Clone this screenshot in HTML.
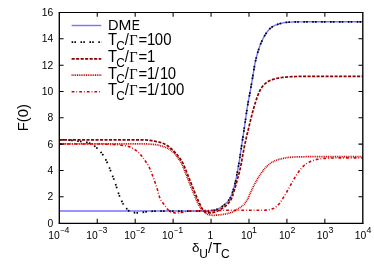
<!DOCTYPE html>
<html><head><meta charset="utf-8"><style>
html,body{margin:0;padding:0;background:#fff;}
svg{display:block;will-change:transform;}
text{font-family:"Liberation Sans",sans-serif;fill:#000;}
.sy{font-family:"Liberation Serif",serif;}
</style></head>
<body>
<svg width="374" height="267" viewBox="0 0 374 267">
<rect width="374" height="267" fill="#fff"/>
<g fill="none">
<path d="M59.50,211.00 L60.00,211.00 L60.50,211.00 L61.00,211.00 L61.50,211.00 L62.00,211.00 L62.50,211.00 L63.00,211.00 L63.50,211.00 L64.00,211.00 L64.50,211.00 L65.00,211.00 L65.50,211.00 L66.00,211.00 L66.50,211.00 L67.00,211.00 L67.50,211.00 L68.00,211.00 L68.50,211.00 L69.00,211.00 L69.50,211.00 L70.00,211.00 L70.50,211.00 L71.00,211.00 L71.50,211.00 L72.00,211.00 L72.50,211.00 L73.00,211.00 L73.50,211.00 L74.00,211.00 L74.50,211.00 L75.00,211.00 L75.50,211.00 L76.00,211.00 L76.50,211.00 L77.00,211.00 L77.50,211.00 L78.00,211.00 L78.50,211.00 L79.00,211.00 L79.50,211.00 L80.00,211.00 L80.50,211.00 L81.00,211.00 L81.50,211.00 L82.00,211.00 L82.50,211.00 L83.00,211.00 L83.50,211.00 L84.00,211.00 L84.50,211.00 L85.00,211.00 L85.50,211.00 L86.00,211.00 L86.50,211.00 L87.00,211.00 L87.50,211.00 L88.00,211.00 L88.50,211.00 L89.00,211.00 L89.50,211.00 L90.00,211.00 L90.50,211.00 L91.00,211.00 L91.50,211.00 L92.00,211.00 L92.50,211.00 L93.00,211.00 L93.50,211.00 L94.00,211.00 L94.50,211.00 L95.00,211.00 L95.50,211.00 L96.00,211.00 L96.50,211.00 L97.00,211.00 L97.50,211.00 L98.00,211.00 L98.50,211.00 L99.00,211.00 L99.50,211.00 L100.00,211.00 L100.50,211.00 L101.00,211.00 L101.50,211.00 L102.00,211.00 L102.50,211.00 L103.00,211.00 L103.50,211.00 L104.00,211.00 L104.50,211.00 L105.00,211.00 L105.50,211.00 L106.00,211.00 L106.50,211.00 L107.00,211.00 L107.50,211.00 L108.00,211.00 L108.50,211.00 L109.00,211.00 L109.50,211.00 L110.00,211.00 L110.50,211.00 L111.00,211.00 L111.50,211.00 L112.00,211.00 L112.50,211.00 L113.00,211.00 L113.50,211.00 L114.00,211.00 L114.50,211.00 L115.00,211.00 L115.50,211.00 L116.00,211.00 L116.50,211.00 L117.00,211.00 L117.50,211.00 L118.00,211.00 L118.50,211.00 L119.00,211.00 L119.50,211.00 L120.00,211.00 L120.50,211.00 L121.00,211.00 L121.50,211.00 L122.00,211.00 L122.50,211.00 L123.00,211.00 L123.50,211.00 L124.00,211.00 L124.50,211.00 L125.00,211.00 L125.50,211.00 L126.00,211.00 L126.50,211.00 L127.00,211.00 L127.50,211.00 L128.00,211.00 L128.50,211.00 L129.00,211.00 L129.50,211.00 L130.00,211.00 L130.50,211.00 L131.00,211.00 L131.50,211.00 L132.00,211.00 L132.50,211.00 L133.00,211.00 L133.50,211.00 L134.00,211.00 L134.50,211.00 L135.00,211.00 L135.50,211.00 L136.00,211.00 L136.50,211.00 L137.00,211.00 L137.50,211.00 L138.00,211.00 L138.50,211.00 L139.00,211.00 L139.50,211.00 L140.00,211.00 L140.50,211.00 L141.00,211.00 L141.50,211.00 L142.00,211.00 L142.50,211.00 L143.00,211.00 L143.50,211.00 L144.00,211.00 L144.50,211.00 L145.00,211.00 L145.50,211.00 L146.00,211.00 L146.50,211.00 L147.00,211.00 L147.50,211.00 L148.00,211.00 L148.50,211.00 L149.00,211.00 L149.50,211.00 L150.00,211.00 L150.50,211.00 L151.00,211.00 L151.50,211.00 L152.00,211.00 L152.50,211.00 L153.00,211.00 L153.50,211.00 L154.00,211.00 L154.50,211.00 L155.00,211.00 L155.50,211.00 L156.00,211.00 L156.50,211.00 L157.00,211.00 L157.50,211.00 L158.00,211.00 L158.50,211.00 L159.00,211.00 L159.50,211.00 L160.00,211.00 L160.50,211.00 L161.00,211.00 L161.50,211.00 L162.00,211.00 L162.50,211.00 L163.00,211.00 L163.50,211.00 L164.00,211.00 L164.50,211.00 L165.00,211.00 L165.50,211.00 L166.00,211.00 L166.50,211.00 L167.00,211.00 L167.50,211.00 L168.00,211.00 L168.50,211.00 L169.00,211.00 L169.50,211.00 L170.00,211.00 L170.50,211.00 L171.00,211.00 L171.50,211.00 L172.00,211.00 L172.50,211.00 L173.00,211.00 L173.50,211.00 L174.00,211.00 L174.50,211.00 L175.00,211.00 L175.50,211.00 L176.00,211.00 L176.50,211.00 L177.00,211.00 L177.50,211.00 L178.00,211.00 L178.50,211.00 L179.00,211.00 L179.50,211.00 L180.00,211.00 L180.50,211.00 L181.00,211.00 L181.50,211.00 L182.00,211.00 L182.50,211.00 L183.00,211.00 L183.50,211.00 L184.00,211.00 L184.50,211.00 L185.00,211.00 L185.50,211.00 L186.00,211.00 L186.50,211.00 L187.00,211.00 L187.50,211.00 L188.00,211.00 L188.50,211.00 L189.00,211.00 L189.50,211.00 L190.00,211.00 L190.50,211.00 L191.00,211.00 L191.50,211.00 L192.00,211.00 L192.50,211.00 L193.00,211.00 L193.50,211.00 L194.00,211.00 L194.50,211.00 L195.00,211.00 L195.50,211.00 L196.00,211.00 L196.50,211.00 L197.00,211.00 L197.50,211.00 L198.00,211.00 L198.50,211.00 L199.00,211.00 L199.50,211.00 L200.00,211.00 L200.50,211.00 L201.00,211.00 L201.50,211.01 L202.00,211.02 L202.50,211.02 L203.00,211.03 L203.50,211.04 L204.00,211.05 L204.50,211.06 L205.00,211.07 L205.50,211.08 L206.00,211.08 L206.50,211.09 L207.00,211.10 L207.50,211.10 L208.00,211.10 L208.50,211.09 L209.00,211.07 L209.50,211.04 L210.00,211.00 L210.50,210.95 L211.00,210.89 L211.50,210.82 L212.00,210.75 L212.50,210.67 L213.00,210.59 L213.50,210.50 L214.00,210.40 L214.50,210.26 L215.00,210.10 L215.50,209.91 L216.00,209.70 L216.50,209.49 L217.00,209.26 L217.50,209.03 L218.00,208.80 L218.50,208.57 L219.00,208.32 L219.50,208.06 L220.00,207.79 L220.50,207.51 L221.00,207.21 L221.50,206.90 L222.00,206.57 L222.50,206.23 L223.00,205.87 L223.50,205.47 L224.00,205.06 L224.50,204.62 L225.00,204.16 L225.50,203.69 L226.00,203.20 L226.50,202.71 L227.00,202.21 L227.50,201.68 L228.00,201.12 L228.50,200.49 L229.00,199.80 L229.50,199.00 L230.00,198.08 L230.50,197.06 L231.00,195.95 L231.50,194.76 L232.00,193.50 L232.50,192.14 L233.00,190.64 L233.50,189.02 L234.00,187.28 L234.50,185.44 L235.00,183.50 L235.50,181.39 L236.00,179.08 L236.50,176.60 L237.00,174.04 L237.50,171.41 L238.00,168.66 L238.50,165.79 L239.00,162.82 L239.50,159.76 L240.00,156.54 L240.50,153.21 L241.00,149.84 L241.50,146.50 L242.00,143.21 L242.50,139.93 L243.00,136.64 L243.50,133.33 L244.00,129.99 L244.50,126.62 L245.00,123.23 L245.50,119.81 L246.00,116.26 L246.50,112.68 L247.00,109.27 L247.50,106.18 L248.00,103.31 L248.50,100.58 L249.00,97.91 L249.50,95.24 L250.00,92.50 L250.50,89.70 L251.00,86.90 L251.50,84.07 L252.00,81.18 L252.50,78.18 L253.00,75.07 L253.50,72.00 L254.00,68.96 L254.50,65.97 L255.00,63.28 L255.50,60.99 L256.00,58.86 L256.50,56.87 L257.00,55.01 L257.50,53.25 L258.00,51.59 L258.50,50.00 L259.00,48.48 L259.50,47.02 L260.00,45.63 L260.50,44.31 L261.00,43.06 L261.50,41.89 L262.00,40.79 L262.50,39.73 L263.00,38.72 L263.50,37.75 L264.00,36.82 L264.50,35.93 L265.00,35.09 L265.50,34.29 L266.00,33.53 L266.50,32.82 L267.00,32.13 L267.50,31.46 L268.00,30.81 L268.50,30.19 L269.00,29.61 L269.50,29.07 L270.00,28.58 L270.50,28.14 L271.00,27.75 L271.50,27.39 L272.00,27.06 L272.50,26.74 L273.00,26.44 L273.50,26.15 L274.00,25.89 L274.50,25.64 L275.00,25.41 L275.50,25.19 L276.00,24.99 L276.50,24.80 L277.00,24.62 L277.50,24.45 L278.00,24.27 L278.50,24.10 L279.00,23.94 L279.50,23.78 L280.00,23.62 L280.50,23.48 L281.00,23.34 L281.50,23.20 L282.00,23.08 L282.50,22.96 L283.00,22.86 L283.50,22.76 L284.00,22.68 L284.50,22.60 L285.00,22.54 L285.50,22.49 L286.00,22.45 L286.50,22.40 L287.00,22.36 L287.50,22.32 L288.00,22.29 L288.50,22.25 L289.00,22.22 L289.50,22.18 L290.00,22.15 L290.50,22.12 L291.00,22.09 L291.50,22.07 L292.00,22.04 L292.50,22.02 L293.00,22.00 L293.50,21.98 L294.00,21.96 L294.50,21.95 L295.00,21.93 L295.50,21.92 L296.00,21.91 L296.50,21.90 L297.00,21.90 L297.50,21.89 L298.00,21.88 L298.50,21.88 L299.00,21.87 L299.50,21.87 L300.00,21.86 L300.50,21.85 L301.00,21.85 L301.50,21.84 L302.00,21.84 L302.50,21.83 L303.00,21.83 L303.50,21.83 L304.00,21.82 L304.50,21.82 L305.00,21.82 L305.50,21.81 L306.00,21.81 L306.50,21.81 L307.00,21.81 L307.50,21.80 L308.00,21.80 L308.50,21.80 L309.00,21.80 L309.50,21.80 L310.00,21.80 L310.50,21.80 L311.00,21.80 L311.50,21.80 L312.00,21.80 L312.50,21.80 L313.00,21.80 L313.50,21.80 L314.00,21.80 L314.50,21.80 L315.00,21.80 L315.50,21.80 L316.00,21.80 L316.50,21.80 L317.00,21.80 L317.50,21.80 L318.00,21.80 L318.50,21.80 L319.00,21.80 L319.50,21.80 L320.00,21.80 L320.50,21.80 L321.00,21.80 L321.50,21.80 L322.00,21.80 L322.50,21.80 L323.00,21.80 L323.50,21.80 L324.00,21.80 L324.50,21.80 L325.00,21.80 L325.50,21.80 L326.00,21.80 L326.50,21.80 L327.00,21.80 L327.50,21.80 L328.00,21.80 L328.50,21.80 L329.00,21.80 L329.50,21.80 L330.00,21.80 L330.50,21.80 L331.00,21.80 L331.50,21.80 L332.00,21.80 L332.50,21.80 L333.00,21.80 L333.50,21.80 L334.00,21.80 L334.50,21.80 L335.00,21.80 L335.50,21.80 L336.00,21.80 L336.50,21.80 L337.00,21.80 L337.50,21.80 L338.00,21.80 L338.50,21.80 L339.00,21.80 L339.50,21.80 L340.00,21.80 L340.50,21.80 L341.00,21.80 L341.50,21.80 L342.00,21.80 L342.50,21.80 L343.00,21.80 L343.50,21.80 L344.00,21.80 L344.50,21.80 L345.00,21.80 L345.50,21.80 L346.00,21.80 L346.50,21.80 L347.00,21.80 L347.50,21.80 L348.00,21.80 L348.50,21.80 L349.00,21.80 L349.50,21.80 L350.00,21.80 L350.50,21.80 L351.00,21.80 L351.50,21.80 L352.00,21.80 L352.50,21.80 L353.00,21.80 L353.50,21.80 L354.00,21.80 L354.50,21.80 L355.00,21.80 L355.50,21.80 L356.00,21.80 L356.50,21.80 L357.00,21.80 L357.50,21.80 L358.00,21.80 L358.50,21.80 L359.00,21.80 L359.50,21.80 L360.00,21.80 L360.50,21.80 L361.00,21.80 L361.50,21.80 L362.00,21.80 L362.50,21.80 L362.90,21.80" stroke="#7474ff" stroke-width="1.4"/>
<path d="M59.50,139.90 L60.00,139.90 L60.50,139.90 L61.00,139.91 L61.50,139.91 L62.00,139.92 L62.50,139.93 L63.00,139.93 L63.50,139.94 L64.00,139.95 L64.50,139.96 L65.00,139.98 L65.50,139.99 L66.00,140.00 L66.50,140.02 L67.00,140.04 L67.50,140.07 L68.00,140.10 L68.50,140.13 L69.00,140.17 L69.50,140.21 L70.00,140.26 L70.50,140.30 L71.00,140.35 L71.50,140.39 L72.00,140.44 L72.50,140.48 L73.00,140.54 L73.50,140.59 L74.00,140.65 L74.50,140.71 L75.00,140.77 L75.50,140.82 L76.00,140.88 L76.50,140.94 L77.00,141.00 L77.50,141.06 L78.00,141.11 L78.50,141.17 L79.00,141.22 L79.50,141.28 L80.00,141.34 L80.50,141.40 L81.00,141.46 L81.50,141.52 L82.00,141.59 L82.50,141.65 L83.00,141.72 L83.50,141.78 L84.00,141.86 L84.50,141.93 L85.00,142.02 L85.50,142.10 L86.00,142.20 L86.50,142.31 L87.00,142.43 L87.50,142.56 L88.00,142.70 L88.50,142.86 L89.00,143.03 L89.50,143.21 L90.00,143.40 L90.50,143.61 L91.00,143.84 L91.50,144.09 L92.00,144.36 L92.50,144.65 L93.00,144.96 L93.50,145.28 L94.00,145.61 L94.50,145.96 L95.00,146.33 L95.50,146.72 L96.00,147.14 L96.50,147.57 L97.00,148.03 L97.50,148.51 L98.00,149.01 L98.50,149.52 L99.00,150.05 L99.50,150.60 L100.00,151.16 L100.50,151.73 L101.00,152.33 L101.50,152.95 L102.00,153.61 L102.50,154.29 L103.00,155.00 L103.50,155.75 L104.00,156.52 L104.50,157.33 L105.00,158.17 L105.50,159.07 L106.00,160.04 L106.50,161.06 L107.00,162.13 L107.50,163.24 L108.00,164.38 L108.50,165.53 L109.00,166.71 L109.50,167.96 L110.00,169.26 L110.50,170.59 L111.00,171.93 L111.50,173.26 L112.00,174.56 L112.50,175.81 L113.00,177.04 L113.50,178.26 L114.00,179.52 L114.50,180.82 L115.00,182.20 L115.50,183.71 L116.00,185.33 L116.50,187.02 L117.00,188.68 L117.50,190.27 L118.00,191.76 L118.50,193.23 L119.00,194.68 L119.50,196.08 L120.00,197.39 L120.50,198.61 L121.00,199.70 L121.50,200.74 L122.00,201.74 L122.50,202.69 L123.00,203.60 L123.50,204.44 L124.00,205.23 L124.50,205.95 L125.00,206.60 L125.50,207.21 L126.00,207.82 L126.50,208.42 L127.00,209.00 L127.50,209.54 L128.00,210.05 L128.50,210.52 L129.00,210.93 L129.50,211.28 L130.00,211.56 L130.50,211.77 L131.00,211.92 L131.50,212.05 L132.00,212.19 L132.50,212.31 L133.00,212.42 L133.50,212.53 L134.00,212.62 L134.50,212.70 L135.00,212.77 L135.50,212.83 L136.00,212.87 L136.50,212.89 L137.00,212.90 L137.50,212.89 L138.00,212.87 L138.50,212.84 L139.00,212.80 L139.50,212.75 L140.00,212.69 L140.50,212.63 L141.00,212.56 L141.50,212.49 L142.00,212.43 L142.50,212.36 L143.00,212.30 L143.50,212.24 L144.00,212.16 L144.50,212.08 L145.00,212.00 L145.50,211.91 L146.00,211.83 L146.50,211.74 L147.00,211.66 L147.50,211.59 L148.00,211.52 L148.50,211.46 L149.00,211.42 L149.50,211.39 L150.00,211.36 L150.50,211.34 L151.00,211.31 L151.50,211.29 L152.00,211.26 L152.50,211.24 L153.00,211.22 L153.50,211.20 L154.00,211.18 L154.50,211.16 L155.00,211.15 L155.50,211.13 L156.00,211.12 L156.50,211.10 L157.00,211.09 L157.50,211.08 L158.00,211.07 L158.50,211.06 L159.00,211.06 L159.50,211.05 L160.00,211.05 L160.50,211.05 L161.00,211.05 L161.50,211.04 L162.00,211.04 L162.50,211.04 L163.00,211.04 L163.50,211.03 L164.00,211.03 L164.50,211.03 L165.00,211.03 L165.50,211.03 L166.00,211.02 L166.50,211.02 L167.00,211.02 L167.50,211.02 L168.00,211.02 L168.50,211.02 L169.00,211.01 L169.50,211.01 L170.00,211.01 L170.50,211.01 L171.00,211.01 L171.50,211.01 L172.00,211.01 L172.50,211.01 L173.00,211.01 L173.50,211.01 L174.00,211.00 L174.50,211.00 L175.00,211.00 L175.50,211.00 L176.00,211.00 L176.50,211.00 L177.00,211.00 L177.50,211.00 L178.00,211.00 L178.50,211.00 L179.00,211.00 L179.50,211.00 L180.00,211.00 L180.50,211.00 L181.00,211.00 L181.50,211.00 L182.00,211.00 L182.50,211.00 L183.00,211.00 L183.50,211.00 L184.00,211.00 L184.50,211.00 L185.00,211.00 L185.50,211.00 L186.00,211.00 L186.50,211.00 L187.00,211.00 L187.50,211.00 L188.00,211.00 L188.50,211.00 L189.00,211.00 L189.50,211.00 L190.00,211.00 L190.50,211.00 L191.00,211.00 L191.50,211.00 L192.00,211.00 L192.50,211.00 L193.00,211.00 L193.50,211.00 L194.00,211.00 L194.50,211.00 L195.00,211.00 L195.50,211.00 L196.00,211.00 L196.50,211.00 L197.00,211.00 L197.50,211.00 L198.00,211.00 L198.50,211.00 L199.00,211.00 L199.50,211.00 L200.00,211.00 L200.50,211.00 L201.00,211.00 L201.50,211.01 L202.00,211.02 L202.50,211.02 L203.00,211.03 L203.50,211.04 L204.00,211.05 L204.50,211.06 L205.00,211.07 L205.50,211.08 L206.00,211.08 L206.50,211.09 L207.00,211.10 L207.50,211.10 L208.00,211.10 L208.50,211.09 L209.00,211.07 L209.50,211.04 L210.00,211.00 L210.50,210.95 L211.00,210.89 L211.50,210.82 L212.00,210.75 L212.50,210.67 L213.00,210.59 L213.50,210.50 L214.00,210.40 L214.50,210.26 L215.00,210.10 L215.50,209.91 L216.00,209.70 L216.50,209.49 L217.00,209.26 L217.50,209.03 L218.00,208.80 L218.50,208.57 L219.00,208.32 L219.50,208.06 L220.00,207.79 L220.50,207.51 L221.00,207.21 L221.50,206.90 L222.00,206.57 L222.50,206.23 L223.00,205.87 L223.50,205.47 L224.00,205.06 L224.50,204.62 L225.00,204.16 L225.50,203.69 L226.00,203.20 L226.50,202.71 L227.00,202.21 L227.50,201.68 L228.00,201.12 L228.50,200.49 L229.00,199.80 L229.50,199.00 L230.00,198.08 L230.50,197.06 L231.00,195.95 L231.50,194.76 L232.00,193.50 L232.50,192.14 L233.00,190.64 L233.50,189.02 L234.00,187.28 L234.50,185.44 L235.00,183.50 L235.50,181.39 L236.00,179.08 L236.50,176.60 L237.00,174.04 L237.50,171.41 L238.00,168.66 L238.50,165.79 L239.00,162.82 L239.50,159.76 L240.00,156.54 L240.50,153.21 L241.00,149.84 L241.50,146.50 L242.00,143.21 L242.50,139.93 L243.00,136.64 L243.50,133.33 L244.00,129.99 L244.50,126.62 L245.00,123.23 L245.50,119.81 L246.00,116.26 L246.50,112.68 L247.00,109.27 L247.50,106.18 L248.00,103.31 L248.50,100.58 L249.00,97.91 L249.50,95.24 L250.00,92.50 L250.50,89.70 L251.00,86.90 L251.50,84.07 L252.00,81.18 L252.50,78.18 L253.00,75.07 L253.50,72.00 L254.00,68.96 L254.50,65.97 L255.00,63.28 L255.50,60.99 L256.00,58.86 L256.50,56.87 L257.00,55.01 L257.50,53.25 L258.00,51.59 L258.50,50.00 L259.00,48.48 L259.50,47.02 L260.00,45.63 L260.50,44.31 L261.00,43.06 L261.50,41.89 L262.00,40.79 L262.50,39.73 L263.00,38.72 L263.50,37.75 L264.00,36.82 L264.50,35.93 L265.00,35.09 L265.50,34.29 L266.00,33.53 L266.50,32.82 L267.00,32.13 L267.50,31.46 L268.00,30.81 L268.50,30.19 L269.00,29.61 L269.50,29.07 L270.00,28.58 L270.50,28.14 L271.00,27.75 L271.50,27.39 L272.00,27.06 L272.50,26.74 L273.00,26.44 L273.50,26.15 L274.00,25.89 L274.50,25.64 L275.00,25.41 L275.50,25.19 L276.00,24.99 L276.50,24.80 L277.00,24.62 L277.50,24.45 L278.00,24.27 L278.50,24.10 L279.00,23.94 L279.50,23.78 L280.00,23.62 L280.50,23.48 L281.00,23.34 L281.50,23.20 L282.00,23.08 L282.50,22.96 L283.00,22.86 L283.50,22.76 L284.00,22.68 L284.50,22.60 L285.00,22.54 L285.50,22.49 L286.00,22.45 L286.50,22.40 L287.00,22.36 L287.50,22.32 L288.00,22.29 L288.50,22.25 L289.00,22.22 L289.50,22.18 L290.00,22.15 L290.50,22.12 L291.00,22.09 L291.50,22.07 L292.00,22.04 L292.50,22.02 L293.00,22.00 L293.50,21.98 L294.00,21.96 L294.50,21.95 L295.00,21.93 L295.50,21.92 L296.00,21.91 L296.50,21.90 L297.00,21.90 L297.50,21.89 L298.00,21.88 L298.50,21.88 L299.00,21.87 L299.50,21.87 L300.00,21.86 L300.50,21.85 L301.00,21.85 L301.50,21.84 L302.00,21.84 L302.50,21.83 L303.00,21.83 L303.50,21.83 L304.00,21.82 L304.50,21.82 L305.00,21.82 L305.50,21.81 L306.00,21.81 L306.50,21.81 L307.00,21.81 L307.50,21.80 L308.00,21.80 L308.50,21.80 L309.00,21.80 L309.50,21.80 L310.00,21.80 L310.50,21.80 L311.00,21.80 L311.50,21.80 L312.00,21.80 L312.50,21.80 L313.00,21.80 L313.50,21.80 L314.00,21.80 L314.50,21.80 L315.00,21.80 L315.50,21.80 L316.00,21.80 L316.50,21.80 L317.00,21.80 L317.50,21.80 L318.00,21.80 L318.50,21.80 L319.00,21.80 L319.50,21.80 L320.00,21.80 L320.50,21.80 L321.00,21.80 L321.50,21.80 L322.00,21.80 L322.50,21.80 L323.00,21.80 L323.50,21.80 L324.00,21.80 L324.50,21.80 L325.00,21.80 L325.50,21.80 L326.00,21.80 L326.50,21.80 L327.00,21.80 L327.50,21.80 L328.00,21.80 L328.50,21.80 L329.00,21.80 L329.50,21.80 L330.00,21.80 L330.50,21.80 L331.00,21.80 L331.50,21.80 L332.00,21.80 L332.50,21.80 L333.00,21.80 L333.50,21.80 L334.00,21.80 L334.50,21.80 L335.00,21.80 L335.50,21.80 L336.00,21.80 L336.50,21.80 L337.00,21.80 L337.50,21.80 L338.00,21.80 L338.50,21.80 L339.00,21.80 L339.50,21.80 L340.00,21.80 L340.50,21.80 L341.00,21.80 L341.50,21.80 L342.00,21.80 L342.50,21.80 L343.00,21.80 L343.50,21.80 L344.00,21.80 L344.50,21.80 L345.00,21.80 L345.50,21.80 L346.00,21.80 L346.50,21.80 L347.00,21.80 L347.50,21.80 L348.00,21.80 L348.50,21.80 L349.00,21.80 L349.50,21.80 L350.00,21.80 L350.50,21.80 L351.00,21.80 L351.50,21.80 L352.00,21.80 L352.50,21.80 L353.00,21.80 L353.50,21.80 L354.00,21.80 L354.50,21.80 L355.00,21.80 L355.50,21.80 L356.00,21.80 L356.50,21.80 L357.00,21.80 L357.50,21.80 L358.00,21.80 L358.50,21.80 L359.00,21.80 L359.50,21.80 L360.00,21.80 L360.50,21.80 L361.00,21.80 L361.50,21.80 L362.00,21.80 L362.50,21.80 L362.90,21.80" stroke="#000" stroke-width="1.75" stroke-dasharray="1.6 1.2 1.6 4.5"/>
<path d="M59.50,139.80 L60.00,139.80 L60.50,139.80 L61.00,139.80 L61.50,139.80 L62.00,139.80 L62.50,139.80 L63.00,139.80 L63.50,139.80 L64.00,139.80 L64.50,139.80 L65.00,139.80 L65.50,139.80 L66.00,139.80 L66.50,139.80 L67.00,139.80 L67.50,139.80 L68.00,139.80 L68.50,139.80 L69.00,139.80 L69.50,139.80 L70.00,139.80 L70.50,139.80 L71.00,139.80 L71.50,139.80 L72.00,139.80 L72.50,139.80 L73.00,139.80 L73.50,139.80 L74.00,139.80 L74.50,139.80 L75.00,139.80 L75.50,139.80 L76.00,139.80 L76.50,139.80 L77.00,139.80 L77.50,139.80 L78.00,139.80 L78.50,139.80 L79.00,139.80 L79.50,139.80 L80.00,139.80 L80.50,139.80 L81.00,139.80 L81.50,139.80 L82.00,139.80 L82.50,139.80 L83.00,139.80 L83.50,139.80 L84.00,139.80 L84.50,139.80 L85.00,139.80 L85.50,139.80 L86.00,139.80 L86.50,139.80 L87.00,139.80 L87.50,139.80 L88.00,139.80 L88.50,139.80 L89.00,139.80 L89.50,139.80 L90.00,139.80 L90.50,139.80 L91.00,139.80 L91.50,139.80 L92.00,139.80 L92.50,139.80 L93.00,139.80 L93.50,139.80 L94.00,139.80 L94.50,139.80 L95.00,139.80 L95.50,139.80 L96.00,139.80 L96.50,139.80 L97.00,139.80 L97.50,139.80 L98.00,139.80 L98.50,139.80 L99.00,139.80 L99.50,139.80 L100.00,139.80 L100.50,139.80 L101.00,139.80 L101.50,139.80 L102.00,139.80 L102.50,139.80 L103.00,139.80 L103.50,139.80 L104.00,139.80 L104.50,139.80 L105.00,139.80 L105.50,139.80 L106.00,139.80 L106.50,139.80 L107.00,139.80 L107.50,139.80 L108.00,139.80 L108.50,139.80 L109.00,139.80 L109.50,139.80 L110.00,139.80 L110.50,139.80 L111.00,139.80 L111.50,139.80 L112.00,139.80 L112.50,139.80 L113.00,139.80 L113.50,139.80 L114.00,139.80 L114.50,139.80 L115.00,139.80 L115.50,139.80 L116.00,139.80 L116.50,139.80 L117.00,139.80 L117.50,139.80 L118.00,139.80 L118.50,139.80 L119.00,139.80 L119.50,139.80 L120.00,139.80 L120.50,139.80 L121.00,139.80 L121.50,139.80 L122.00,139.80 L122.50,139.80 L123.00,139.80 L123.50,139.80 L124.00,139.80 L124.50,139.80 L125.00,139.80 L125.50,139.80 L126.00,139.80 L126.50,139.80 L127.00,139.80 L127.50,139.80 L128.00,139.80 L128.50,139.80 L129.00,139.80 L129.50,139.80 L130.00,139.80 L130.50,139.80 L131.00,139.80 L131.50,139.80 L132.00,139.80 L132.50,139.80 L133.00,139.80 L133.50,139.80 L134.00,139.80 L134.50,139.80 L135.00,139.80 L135.50,139.80 L136.00,139.80 L136.50,139.80 L137.00,139.80 L137.50,139.80 L138.00,139.80 L138.50,139.80 L139.00,139.80 L139.50,139.80 L140.00,139.80 L140.50,139.80 L141.00,139.81 L141.50,139.81 L142.00,139.83 L142.50,139.84 L143.00,139.86 L143.50,139.87 L144.00,139.89 L144.50,139.91 L145.00,139.94 L145.50,139.96 L146.00,139.99 L146.50,140.01 L147.00,140.04 L147.50,140.08 L148.00,140.13 L148.50,140.18 L149.00,140.24 L149.50,140.31 L150.00,140.38 L150.50,140.46 L151.00,140.54 L151.50,140.62 L152.00,140.71 L152.50,140.79 L153.00,140.89 L153.50,140.98 L154.00,141.07 L154.50,141.17 L155.00,141.27 L155.50,141.36 L156.00,141.46 L156.50,141.56 L157.00,141.66 L157.50,141.76 L158.00,141.87 L158.50,141.99 L159.00,142.11 L159.50,142.24 L160.00,142.37 L160.50,142.51 L161.00,142.65 L161.50,142.80 L162.00,142.97 L162.50,143.13 L163.00,143.32 L163.50,143.52 L164.00,143.74 L164.50,143.98 L165.00,144.23 L165.50,144.49 L166.00,144.77 L166.50,145.06 L167.00,145.36 L167.50,145.67 L168.00,146.00 L168.50,146.35 L169.00,146.74 L169.50,147.15 L170.00,147.57 L170.50,148.02 L171.00,148.47 L171.50,148.92 L172.00,149.37 L172.50,149.84 L173.00,150.31 L173.50,150.79 L174.00,151.29 L174.50,151.80 L175.00,152.33 L175.50,152.87 L176.00,153.43 L176.50,154.00 L177.00,154.59 L177.50,155.21 L178.00,155.84 L178.50,156.49 L179.00,157.16 L179.50,157.85 L180.00,158.56 L180.50,159.28 L181.00,160.02 L181.50,160.78 L182.00,161.57 L182.50,162.42 L183.00,163.32 L183.50,164.31 L184.00,165.47 L184.50,166.74 L185.00,167.99 L185.50,169.23 L186.00,170.48 L186.50,171.74 L187.00,172.99 L187.50,174.25 L188.00,175.50 L188.50,176.75 L189.00,178.00 L189.50,179.25 L190.00,180.50 L190.50,181.75 L191.00,183.00 L191.50,184.25 L192.00,185.51 L192.50,186.76 L193.00,188.01 L193.50,189.26 L194.00,190.49 L194.50,191.73 L195.00,192.98 L195.50,194.21 L196.00,195.44 L196.50,196.65 L197.00,197.84 L197.50,199.00 L198.00,200.14 L198.50,201.26 L199.00,202.35 L199.50,203.40 L200.00,204.40 L200.50,205.40 L201.00,206.39 L201.50,207.34 L202.00,208.21 L202.50,208.96 L203.00,209.58 L203.50,210.17 L204.00,210.72 L204.50,211.21 L205.00,211.64 L205.50,211.97 L206.00,212.20 L206.50,212.36 L207.00,212.51 L207.50,212.64 L208.00,212.75 L208.50,212.83 L209.00,212.88 L209.50,212.90 L210.00,212.89 L210.50,212.85 L211.00,212.80 L211.50,212.74 L212.00,212.67 L212.50,212.60 L213.00,212.51 L213.50,212.40 L214.00,212.27 L214.50,212.12 L215.00,211.96 L215.50,211.78 L216.00,211.59 L216.50,211.40 L217.00,211.20 L217.50,210.98 L218.00,210.74 L218.50,210.47 L219.00,210.19 L219.50,209.89 L220.00,209.59 L220.50,209.29 L221.00,209.00 L221.50,208.72 L222.00,208.44 L222.50,208.16 L223.00,207.88 L223.50,207.59 L224.00,207.27 L224.50,206.94 L225.00,206.58 L225.50,206.18 L226.00,205.74 L226.50,205.27 L227.00,204.77 L227.50,204.24 L228.00,203.69 L228.50,203.12 L229.00,202.53 L229.50,201.93 L230.00,201.26 L230.50,200.51 L231.00,199.63 L231.50,198.54 L232.00,197.29 L232.50,195.89 L233.00,194.39 L233.50,192.84 L234.00,191.25 L234.50,189.69 L235.00,188.06 L235.50,186.35 L236.00,184.59 L236.50,182.78 L237.00,180.96 L237.50,179.14 L238.00,177.36 L238.50,175.57 L239.00,173.72 L239.50,171.76 L240.00,169.61 L240.50,167.21 L241.00,164.64 L241.50,162.02 L242.00,159.39 L242.50,156.66 L243.00,153.89 L243.50,151.15 L244.00,148.51 L244.50,146.02 L245.00,143.65 L245.50,141.35 L246.00,139.11 L246.50,136.93 L247.00,134.81 L247.50,132.76 L248.00,130.74 L248.50,128.73 L249.00,126.67 L249.50,124.57 L250.00,122.46 L250.50,120.40 L251.00,118.41 L251.50,116.43 L252.00,114.49 L252.50,112.59 L253.00,110.74 L253.50,108.94 L254.00,107.18 L254.50,105.44 L255.00,103.75 L255.50,102.13 L256.00,100.59 L256.50,99.13 L257.00,97.70 L257.50,96.30 L258.00,94.96 L258.50,93.68 L259.00,92.48 L259.50,91.39 L260.00,90.41 L260.50,89.51 L261.00,88.65 L261.50,87.85 L262.00,87.09 L262.50,86.40 L263.00,85.77 L263.50,85.21 L264.00,84.70 L264.50,84.23 L265.00,83.78 L265.50,83.36 L266.00,82.95 L266.50,82.58 L267.00,82.22 L267.50,81.89 L268.00,81.59 L268.50,81.30 L269.00,81.04 L269.50,80.81 L270.00,80.58 L270.50,80.37 L271.00,80.16 L271.50,79.96 L272.00,79.77 L272.50,79.59 L273.00,79.42 L273.50,79.26 L274.00,79.11 L274.50,78.96 L275.00,78.82 L275.50,78.70 L276.00,78.58 L276.50,78.46 L277.00,78.36 L277.50,78.26 L278.00,78.16 L278.50,78.07 L279.00,77.97 L279.50,77.89 L280.00,77.80 L280.50,77.72 L281.00,77.64 L281.50,77.57 L282.00,77.50 L282.50,77.43 L283.00,77.37 L283.50,77.31 L284.00,77.25 L284.50,77.20 L285.00,77.15 L285.50,77.11 L286.00,77.07 L286.50,77.03 L287.00,76.99 L287.50,76.95 L288.00,76.91 L288.50,76.87 L289.00,76.84 L289.50,76.80 L290.00,76.77 L290.50,76.74 L291.00,76.71 L291.50,76.68 L292.00,76.65 L292.50,76.63 L293.00,76.60 L293.50,76.58 L294.00,76.56 L294.50,76.54 L295.00,76.53 L295.50,76.52 L296.00,76.51 L296.50,76.50 L297.00,76.49 L297.50,76.49 L298.00,76.48 L298.50,76.47 L299.00,76.47 L299.50,76.46 L300.00,76.46 L300.50,76.45 L301.00,76.45 L301.50,76.44 L302.00,76.44 L302.50,76.43 L303.00,76.43 L303.50,76.42 L304.00,76.42 L304.50,76.42 L305.00,76.42 L305.50,76.41 L306.00,76.41 L306.50,76.41 L307.00,76.41 L307.50,76.40 L308.00,76.40 L308.50,76.40 L309.00,76.40 L309.50,76.40 L310.00,76.40 L310.50,76.40 L311.00,76.40 L311.50,76.40 L312.00,76.40 L312.50,76.40 L313.00,76.40 L313.50,76.40 L314.00,76.40 L314.50,76.40 L315.00,76.40 L315.50,76.40 L316.00,76.40 L316.50,76.40 L317.00,76.40 L317.50,76.40 L318.00,76.40 L318.50,76.40 L319.00,76.40 L319.50,76.40 L320.00,76.40 L320.50,76.40 L321.00,76.40 L321.50,76.40 L322.00,76.40 L322.50,76.40 L323.00,76.40 L323.50,76.40 L324.00,76.40 L324.50,76.40 L325.00,76.40 L325.50,76.40 L326.00,76.40 L326.50,76.40 L327.00,76.40 L327.50,76.40 L328.00,76.40 L328.50,76.40 L329.00,76.40 L329.50,76.40 L330.00,76.40 L330.50,76.40 L331.00,76.40 L331.50,76.40 L332.00,76.40 L332.50,76.40 L333.00,76.40 L333.50,76.40 L334.00,76.40 L334.50,76.40 L335.00,76.40 L335.50,76.40 L336.00,76.40 L336.50,76.40 L337.00,76.40 L337.50,76.40 L338.00,76.40 L338.50,76.40 L339.00,76.40 L339.50,76.40 L340.00,76.40 L340.50,76.40 L341.00,76.40 L341.50,76.40 L342.00,76.40 L342.50,76.40 L343.00,76.40 L343.50,76.40 L344.00,76.40 L344.50,76.40 L345.00,76.40 L345.50,76.40 L346.00,76.40 L346.50,76.40 L347.00,76.40 L347.50,76.40 L348.00,76.40 L348.50,76.40 L349.00,76.40 L349.50,76.40 L350.00,76.40 L350.50,76.40 L351.00,76.40 L351.50,76.40 L352.00,76.40 L352.50,76.40 L353.00,76.40 L353.50,76.40 L354.00,76.40 L354.50,76.40 L355.00,76.40 L355.50,76.40 L356.00,76.40 L356.50,76.40 L357.00,76.40 L357.50,76.40 L358.00,76.40 L358.50,76.40 L359.00,76.40 L359.50,76.40 L360.00,76.40 L360.50,76.40 L361.00,76.40 L361.50,76.40 L362.00,76.40 L362.50,76.40 L362.90,76.40" stroke="#8b0000" stroke-width="1.7" stroke-dasharray="3.1 1.4"/>
<path d="M59.50,143.85 L60.00,143.85 L60.50,143.85 L61.00,143.85 L61.50,143.85 L62.00,143.85 L62.50,143.85 L63.00,143.85 L63.50,143.85 L64.00,143.85 L64.50,143.85 L65.00,143.85 L65.50,143.85 L66.00,143.85 L66.50,143.85 L67.00,143.85 L67.50,143.85 L68.00,143.85 L68.50,143.85 L69.00,143.85 L69.50,143.85 L70.00,143.85 L70.50,143.85 L71.00,143.85 L71.50,143.85 L72.00,143.85 L72.50,143.85 L73.00,143.85 L73.50,143.85 L74.00,143.85 L74.50,143.85 L75.00,143.85 L75.50,143.85 L76.00,143.85 L76.50,143.85 L77.00,143.85 L77.50,143.85 L78.00,143.85 L78.50,143.85 L79.00,143.85 L79.50,143.85 L80.00,143.85 L80.50,143.85 L81.00,143.85 L81.50,143.85 L82.00,143.85 L82.50,143.85 L83.00,143.85 L83.50,143.85 L84.00,143.85 L84.50,143.85 L85.00,143.85 L85.50,143.85 L86.00,143.85 L86.50,143.85 L87.00,143.85 L87.50,143.85 L88.00,143.85 L88.50,143.85 L89.00,143.85 L89.50,143.85 L90.00,143.85 L90.50,143.85 L91.00,143.85 L91.50,143.85 L92.00,143.85 L92.50,143.85 L93.00,143.85 L93.50,143.85 L94.00,143.85 L94.50,143.85 L95.00,143.85 L95.50,143.85 L96.00,143.85 L96.50,143.85 L97.00,143.85 L97.50,143.85 L98.00,143.85 L98.50,143.85 L99.00,143.85 L99.50,143.85 L100.00,143.85 L100.50,143.85 L101.00,143.85 L101.50,143.85 L102.00,143.85 L102.50,143.85 L103.00,143.85 L103.50,143.85 L104.00,143.85 L104.50,143.85 L105.00,143.85 L105.50,143.85 L106.00,143.85 L106.50,143.85 L107.00,143.85 L107.50,143.85 L108.00,143.85 L108.50,143.85 L109.00,143.85 L109.50,143.85 L110.00,143.85 L110.50,143.85 L111.00,143.85 L111.50,143.85 L112.00,143.85 L112.50,143.85 L113.00,143.85 L113.50,143.85 L114.00,143.85 L114.50,143.85 L115.00,143.85 L115.50,143.85 L116.00,143.85 L116.50,143.85 L117.00,143.85 L117.50,143.85 L118.00,143.85 L118.50,143.85 L119.00,143.85 L119.50,143.85 L120.00,143.85 L120.50,143.85 L121.00,143.85 L121.50,143.85 L122.00,143.85 L122.50,143.85 L123.00,143.85 L123.50,143.85 L124.00,143.85 L124.50,143.85 L125.00,143.85 L125.50,143.85 L126.00,143.85 L126.50,143.85 L127.00,143.85 L127.50,143.85 L128.00,143.85 L128.50,143.85 L129.00,143.85 L129.50,143.85 L130.00,143.85 L130.50,143.85 L131.00,143.85 L131.50,143.85 L132.00,143.85 L132.50,143.85 L133.00,143.85 L133.50,143.85 L134.00,143.85 L134.50,143.85 L135.00,143.85 L135.50,143.85 L136.00,143.85 L136.50,143.85 L137.00,143.85 L137.50,143.85 L138.00,143.85 L138.50,143.85 L139.00,143.85 L139.50,143.85 L140.00,143.85 L140.50,143.85 L141.00,143.85 L141.50,143.86 L142.00,143.86 L142.50,143.86 L143.00,143.87 L143.50,143.88 L144.00,143.88 L144.50,143.89 L145.00,143.90 L145.50,143.91 L146.00,143.92 L146.50,143.94 L147.00,143.96 L147.50,143.98 L148.00,144.01 L148.50,144.03 L149.00,144.07 L149.50,144.10 L150.00,144.14 L150.50,144.17 L151.00,144.22 L151.50,144.26 L152.00,144.30 L152.50,144.35 L153.00,144.40 L153.50,144.45 L154.00,144.51 L154.50,144.56 L155.00,144.62 L155.50,144.68 L156.00,144.74 L156.50,144.81 L157.00,144.90 L157.50,144.99 L158.00,145.10 L158.50,145.22 L159.00,145.34 L159.50,145.47 L160.00,145.61 L160.50,145.75 L161.00,145.89 L161.50,146.04 L162.00,146.18 L162.50,146.33 L163.00,146.48 L163.50,146.64 L164.00,146.81 L164.50,146.98 L165.00,147.17 L165.50,147.36 L166.00,147.56 L166.50,147.78 L167.00,148.00 L167.50,148.24 L168.00,148.50 L168.50,148.79 L169.00,149.09 L169.50,149.40 L170.00,149.73 L170.50,150.07 L171.00,150.42 L171.50,150.79 L172.00,151.17 L172.50,151.58 L173.00,152.00 L173.50,152.44 L174.00,152.91 L174.50,153.40 L175.00,153.92 L175.50,154.48 L176.00,155.09 L176.50,155.74 L177.00,156.41 L177.50,157.11 L178.00,157.83 L178.50,158.55 L179.00,159.28 L179.50,160.02 L180.00,160.78 L180.50,161.58 L181.00,162.42 L181.50,163.32 L182.00,164.31 L182.50,165.47 L183.00,166.74 L183.50,167.99 L184.00,169.23 L184.50,170.48 L185.00,171.74 L185.50,172.99 L186.00,174.25 L186.50,175.50 L187.00,176.75 L187.50,178.00 L188.00,179.25 L188.50,180.50 L189.00,181.75 L189.50,183.00 L190.00,184.25 L190.50,185.51 L191.00,186.76 L191.50,188.01 L192.00,189.26 L192.50,190.49 L193.00,191.74 L193.50,192.98 L194.00,194.23 L194.50,195.46 L195.00,196.67 L195.50,197.85 L196.00,199.00 L196.50,200.13 L197.00,201.24 L197.50,202.32 L198.00,203.36 L198.50,204.32 L199.00,205.22 L199.50,206.09 L200.00,206.93 L200.50,207.74 L201.00,208.49 L201.50,209.19 L202.00,209.82 L202.50,210.40 L203.00,210.95 L203.50,211.48 L204.00,211.98 L204.50,212.43 L205.00,212.84 L205.50,213.20 L206.00,213.50 L206.50,213.76 L207.00,214.01 L207.50,214.24 L208.00,214.45 L208.50,214.63 L209.00,214.79 L209.50,214.91 L210.00,215.00 L210.50,215.07 L211.00,215.13 L211.50,215.19 L212.00,215.23 L212.50,215.27 L213.00,215.29 L213.50,215.30 L214.00,215.29 L214.50,215.28 L215.00,215.25 L215.50,215.22 L216.00,215.18 L216.50,215.14 L217.00,215.09 L217.50,215.04 L218.00,215.00 L218.50,214.95 L219.00,214.91 L219.50,214.86 L220.00,214.80 L220.50,214.74 L221.00,214.68 L221.50,214.62 L222.00,214.55 L222.50,214.49 L223.00,214.41 L223.50,214.34 L224.00,214.26 L224.50,214.17 L225.00,214.09 L225.50,213.99 L226.00,213.90 L226.50,213.80 L227.00,213.70 L227.50,213.59 L228.00,213.47 L228.50,213.34 L229.00,213.20 L229.50,213.04 L230.00,212.88 L230.50,212.71 L231.00,212.53 L231.50,212.34 L232.00,212.15 L232.50,211.94 L233.00,211.73 L233.50,211.51 L234.00,211.28 L234.50,211.05 L235.00,210.80 L235.50,210.51 L236.00,210.19 L236.50,209.85 L237.00,209.50 L237.50,209.14 L238.00,208.80 L238.50,208.47 L239.00,208.15 L239.50,207.83 L240.00,207.52 L240.50,207.19 L241.00,206.86 L241.50,206.51 L242.00,206.15 L242.50,205.75 L243.00,205.33 L243.50,204.87 L244.00,204.37 L244.50,203.81 L245.00,203.21 L245.50,202.55 L246.00,201.86 L246.50,201.11 L247.00,200.33 L247.50,199.48 L248.00,198.49 L248.50,197.39 L249.00,196.21 L249.50,195.00 L250.00,193.78 L250.50,192.61 L251.00,191.50 L251.50,190.44 L252.00,189.40 L252.50,188.36 L253.00,187.33 L253.50,186.32 L254.00,185.33 L254.50,184.36 L255.00,183.42 L255.50,182.50 L256.00,181.60 L256.50,180.72 L257.00,179.84 L257.50,178.98 L258.00,178.14 L258.50,177.32 L259.00,176.51 L259.50,175.72 L260.00,174.96 L260.50,174.22 L261.00,173.50 L261.50,172.80 L262.00,172.11 L262.50,171.43 L263.00,170.77 L263.50,170.12 L264.00,169.49 L264.50,168.88 L265.00,168.30 L265.50,167.74 L266.00,167.20 L266.50,166.70 L267.00,166.22 L267.50,165.75 L268.00,165.29 L268.50,164.84 L269.00,164.42 L269.50,164.01 L270.00,163.62 L270.50,163.26 L271.00,162.92 L271.50,162.62 L272.00,162.33 L272.50,162.06 L273.00,161.80 L273.50,161.54 L274.00,161.30 L274.50,161.06 L275.00,160.83 L275.50,160.61 L276.00,160.40 L276.50,160.20 L277.00,160.01 L277.50,159.84 L278.00,159.67 L278.50,159.51 L279.00,159.36 L279.50,159.23 L280.00,159.10 L280.50,158.97 L281.00,158.85 L281.50,158.73 L282.00,158.61 L282.50,158.50 L283.00,158.39 L283.50,158.28 L284.00,158.18 L284.50,158.08 L285.00,157.99 L285.50,157.90 L286.00,157.81 L286.50,157.73 L287.00,157.65 L287.50,157.58 L288.00,157.52 L288.50,157.46 L289.00,157.40 L289.50,157.35 L290.00,157.31 L290.50,157.27 L291.00,157.23 L291.50,157.19 L292.00,157.16 L292.50,157.12 L293.00,157.09 L293.50,157.06 L294.00,157.03 L294.50,157.00 L295.00,156.97 L295.50,156.95 L296.00,156.92 L296.50,156.90 L297.00,156.88 L297.50,156.86 L298.00,156.84 L298.50,156.83 L299.00,156.82 L299.50,156.81 L300.00,156.80 L300.50,156.79 L301.00,156.79 L301.50,156.78 L302.00,156.78 L302.50,156.77 L303.00,156.77 L303.50,156.76 L304.00,156.76 L304.50,156.75 L305.00,156.75 L305.50,156.74 L306.00,156.74 L306.50,156.73 L307.00,156.73 L307.50,156.73 L308.00,156.72 L308.50,156.72 L309.00,156.72 L309.50,156.71 L310.00,156.71 L310.50,156.71 L311.00,156.71 L311.50,156.71 L312.00,156.70 L312.50,156.70 L313.00,156.70 L313.50,156.70 L314.00,156.70 L314.50,156.70 L315.00,156.70 L315.50,156.70 L316.00,156.70 L316.50,156.70 L317.00,156.70 L317.50,156.70 L318.00,156.70 L318.50,156.70 L319.00,156.70 L319.50,156.70 L320.00,156.70 L320.50,156.70 L321.00,156.70 L321.50,156.70 L322.00,156.70 L322.50,156.70 L323.00,156.70 L323.50,156.70 L324.00,156.70 L324.50,156.70 L325.00,156.70 L325.50,156.70 L326.00,156.70 L326.50,156.70 L327.00,156.70 L327.50,156.70 L328.00,156.70 L328.50,156.70 L329.00,156.70 L329.50,156.70 L330.00,156.70 L330.50,156.70 L331.00,156.70 L331.50,156.70 L332.00,156.70 L332.50,156.70 L333.00,156.70 L333.50,156.70 L334.00,156.70 L334.50,156.70 L335.00,156.70 L335.50,156.70 L336.00,156.70 L336.50,156.70 L337.00,156.70 L337.50,156.70 L338.00,156.70 L338.50,156.70 L339.00,156.70 L339.50,156.70 L340.00,156.70 L340.50,156.70 L341.00,156.70 L341.50,156.70 L342.00,156.70 L342.50,156.70 L343.00,156.70 L343.50,156.70 L344.00,156.70 L344.50,156.70 L345.00,156.70 L345.50,156.70 L346.00,156.70 L346.50,156.70 L347.00,156.70 L347.50,156.70 L348.00,156.70 L348.50,156.70 L349.00,156.70 L349.50,156.70 L350.00,156.70 L350.50,156.70 L351.00,156.70 L351.50,156.70 L352.00,156.70 L352.50,156.70 L353.00,156.70 L353.50,156.70 L354.00,156.70 L354.50,156.70 L355.00,156.70 L355.50,156.70 L356.00,156.70 L356.50,156.70 L357.00,156.70 L357.50,156.70 L358.00,156.70 L358.50,156.70 L359.00,156.70 L359.50,156.70 L360.00,156.70 L360.50,156.70 L361.00,156.70 L361.50,156.70 L362.00,156.70 L362.50,156.70 L362.90,156.70" stroke="#cc0000" stroke-width="1.75" stroke-dasharray="0.98 0.82"/>
<path d="M59.50,143.95 L60.00,143.95 L60.50,143.95 L61.00,143.95 L61.50,143.95 L62.00,143.95 L62.50,143.95 L63.00,143.95 L63.50,143.95 L64.00,143.95 L64.50,143.95 L65.00,143.95 L65.50,143.95 L66.00,143.95 L66.50,143.95 L67.00,143.95 L67.50,143.95 L68.00,143.95 L68.50,143.95 L69.00,143.95 L69.50,143.95 L70.00,143.95 L70.50,143.95 L71.00,143.95 L71.50,143.96 L72.00,143.96 L72.50,143.96 L73.00,143.96 L73.50,143.96 L74.00,143.96 L74.50,143.96 L75.00,143.96 L75.50,143.96 L76.00,143.96 L76.50,143.96 L77.00,143.96 L77.50,143.96 L78.00,143.96 L78.50,143.96 L79.00,143.96 L79.50,143.96 L80.00,143.97 L80.50,143.97 L81.00,143.97 L81.50,143.97 L82.00,143.97 L82.50,143.97 L83.00,143.97 L83.50,143.97 L84.00,143.97 L84.50,143.97 L85.00,143.97 L85.50,143.98 L86.00,143.98 L86.50,143.98 L87.00,143.98 L87.50,143.98 L88.00,143.98 L88.50,143.98 L89.00,143.98 L89.50,143.98 L90.00,143.99 L90.50,143.99 L91.00,143.99 L91.50,143.99 L92.00,143.99 L92.50,143.99 L93.00,143.99 L93.50,144.00 L94.00,144.00 L94.50,144.00 L95.00,144.00 L95.50,144.00 L96.00,144.01 L96.50,144.01 L97.00,144.01 L97.50,144.02 L98.00,144.03 L98.50,144.03 L99.00,144.04 L99.50,144.05 L100.00,144.06 L100.50,144.07 L101.00,144.08 L101.50,144.09 L102.00,144.10 L102.50,144.11 L103.00,144.12 L103.50,144.14 L104.00,144.15 L104.50,144.16 L105.00,144.17 L105.50,144.19 L106.00,144.20 L106.50,144.21 L107.00,144.23 L107.50,144.25 L108.00,144.26 L108.50,144.28 L109.00,144.30 L109.50,144.33 L110.00,144.35 L110.50,144.37 L111.00,144.40 L111.50,144.42 L112.00,144.45 L112.50,144.47 L113.00,144.50 L113.50,144.53 L114.00,144.56 L114.50,144.59 L115.00,144.62 L115.50,144.65 L116.00,144.69 L116.50,144.73 L117.00,144.77 L117.50,144.81 L118.00,144.85 L118.50,144.90 L119.00,144.94 L119.50,144.99 L120.00,145.05 L120.50,145.11 L121.00,145.17 L121.50,145.23 L122.00,145.30 L122.50,145.37 L123.00,145.44 L123.50,145.52 L124.00,145.60 L124.50,145.68 L125.00,145.77 L125.50,145.86 L126.00,145.96 L126.50,146.06 L127.00,146.17 L127.50,146.29 L128.00,146.41 L128.50,146.54 L129.00,146.69 L129.50,146.86 L130.00,147.05 L130.50,147.26 L131.00,147.48 L131.50,147.73 L132.00,147.98 L132.50,148.25 L133.00,148.52 L133.50,148.80 L134.00,149.09 L134.50,149.39 L135.00,149.71 L135.50,150.04 L136.00,150.40 L136.50,150.77 L137.00,151.16 L137.50,151.57 L138.00,152.00 L138.50,152.46 L139.00,152.95 L139.50,153.48 L140.00,154.03 L140.50,154.61 L141.00,155.21 L141.50,155.83 L142.00,156.48 L142.50,157.13 L143.00,157.80 L143.50,158.48 L144.00,159.17 L144.50,159.86 L145.00,160.56 L145.50,161.26 L146.00,161.98 L146.50,162.72 L147.00,163.49 L147.50,164.28 L148.00,165.12 L148.50,165.99 L149.00,166.92 L149.50,167.90 L150.00,168.99 L150.50,170.18 L151.00,171.44 L151.50,172.76 L152.00,174.10 L152.50,175.46 L153.00,176.80 L153.50,178.13 L154.00,179.48 L154.50,180.84 L155.00,182.22 L155.50,183.64 L156.00,185.09 L156.50,186.58 L157.00,188.14 L157.50,189.90 L158.00,191.78 L158.50,193.67 L159.00,195.44 L159.50,196.96 L160.00,198.14 L160.50,199.15 L161.00,200.06 L161.50,200.89 L162.00,201.66 L162.50,202.39 L163.00,203.08 L163.50,203.77 L164.00,204.46 L164.50,205.17 L165.00,205.88 L165.50,206.58 L166.00,207.27 L166.50,207.93 L167.00,208.55 L167.50,209.12 L168.00,209.64 L168.50,210.08 L169.00,210.51 L169.50,210.92 L170.00,211.30 L170.50,211.65 L171.00,211.96 L171.50,212.20 L172.00,212.37 L172.50,212.49 L173.00,212.60 L173.50,212.70 L174.00,212.79 L174.50,212.86 L175.00,212.92 L175.50,212.97 L176.00,212.99 L176.50,213.00 L177.00,212.99 L177.50,212.96 L178.00,212.92 L178.50,212.86 L179.00,212.80 L179.50,212.73 L180.00,212.66 L180.50,212.58 L181.00,212.50 L181.50,212.43 L182.00,212.35 L182.50,212.27 L183.00,212.17 L183.50,212.07 L184.00,211.96 L184.50,211.86 L185.00,211.76 L185.50,211.67 L186.00,211.60 L186.50,211.54 L187.00,211.48 L187.50,211.42 L188.00,211.37 L188.50,211.31 L189.00,211.26 L189.50,211.22 L190.00,211.17 L190.50,211.13 L191.00,211.09 L191.50,211.06 L192.00,211.02 L192.50,210.99 L193.00,210.97 L193.50,210.94 L194.00,210.91 L194.50,210.88 L195.00,210.86 L195.50,210.83 L196.00,210.80 L196.50,210.78 L197.00,210.76 L197.50,210.73 L198.00,210.71 L198.50,210.69 L199.00,210.67 L199.50,210.65 L200.00,210.63 L200.50,210.61 L201.00,210.60 L201.50,210.58 L202.00,210.56 L202.50,210.55 L203.00,210.54 L203.50,210.53 L204.00,210.52 L204.50,210.51 L205.00,210.50 L205.50,210.49 L206.00,210.49 L206.50,210.48 L207.00,210.47 L207.50,210.47 L208.00,210.46 L208.50,210.45 L209.00,210.45 L209.50,210.44 L210.00,210.43 L210.50,210.43 L211.00,210.42 L211.50,210.42 L212.00,210.41 L212.50,210.40 L213.00,210.40 L213.50,210.39 L214.00,210.39 L214.50,210.38 L215.00,210.38 L215.50,210.37 L216.00,210.37 L216.50,210.36 L217.00,210.36 L217.50,210.36 L218.00,210.35 L218.50,210.35 L219.00,210.34 L219.50,210.34 L220.00,210.34 L220.50,210.33 L221.00,210.33 L221.50,210.33 L222.00,210.32 L222.50,210.32 L223.00,210.32 L223.50,210.32 L224.00,210.31 L224.50,210.31 L225.00,210.31 L225.50,210.31 L226.00,210.31 L226.50,210.30 L227.00,210.30 L227.50,210.30 L228.00,210.30 L228.50,210.30 L229.00,210.30 L229.50,210.30 L230.00,210.30 L230.50,210.30 L231.00,210.30 L231.50,210.30 L232.00,210.30 L232.50,210.30 L233.00,210.30 L233.50,210.30 L234.00,210.30 L234.50,210.30 L235.00,210.30 L235.50,210.30 L236.00,210.30 L236.50,210.30 L237.00,210.30 L237.50,210.30 L238.00,210.30 L238.50,210.30 L239.00,210.30 L239.50,210.30 L240.00,210.30 L240.50,210.30 L241.00,210.30 L241.50,210.30 L242.00,210.30 L242.50,210.30 L243.00,210.30 L243.50,210.30 L244.00,210.30 L244.50,210.30 L245.00,210.30 L245.50,210.30 L246.00,210.30 L246.50,210.30 L247.00,210.30 L247.50,210.30 L248.00,210.30 L248.50,210.30 L249.00,210.30 L249.50,210.30 L250.00,210.30 L250.50,210.30 L251.00,210.30 L251.50,210.30 L252.00,210.30 L252.50,210.30 L253.00,210.30 L253.50,210.30 L254.00,210.30 L254.50,210.30 L255.00,210.30 L255.50,210.30 L256.00,210.30 L256.50,210.30 L257.00,210.30 L257.50,210.30 L258.00,210.30 L258.50,210.30 L259.00,210.30 L259.50,210.30 L260.00,210.30 L260.50,210.30 L261.00,210.30 L261.50,210.30 L262.00,210.30 L262.50,210.30 L263.00,210.28 L263.50,210.27 L264.00,210.24 L264.50,210.21 L265.00,210.18 L265.50,210.13 L266.00,210.09 L266.50,210.04 L267.00,209.99 L267.50,209.93 L268.00,209.87 L268.50,209.81 L269.00,209.74 L269.50,209.66 L270.00,209.56 L270.50,209.44 L271.00,209.30 L271.50,209.15 L272.00,208.99 L272.50,208.81 L273.00,208.62 L273.50,208.42 L274.00,208.20 L274.50,207.95 L275.00,207.65 L275.50,207.29 L276.00,206.90 L276.50,206.47 L277.00,206.00 L277.50,205.51 L278.00,204.99 L278.50,204.46 L279.00,203.92 L279.50,203.36 L280.00,202.74 L280.50,202.07 L281.00,201.35 L281.50,200.60 L282.00,199.82 L282.50,199.01 L283.00,198.19 L283.50,197.37 L284.00,196.55 L284.50,195.74 L285.00,194.92 L285.50,194.08 L286.00,193.23 L286.50,192.36 L287.00,191.48 L287.50,190.60 L288.00,189.71 L288.50,188.82 L289.00,187.93 L289.50,187.05 L290.00,186.17 L290.50,185.28 L291.00,184.37 L291.50,183.46 L292.00,182.55 L292.50,181.64 L293.00,180.75 L293.50,179.86 L294.00,178.99 L294.50,178.15 L295.00,177.34 L295.50,176.54 L296.00,175.74 L296.50,174.95 L297.00,174.17 L297.50,173.41 L298.00,172.66 L298.50,171.94 L299.00,171.25 L299.50,170.58 L300.00,169.94 L300.50,169.34 L301.00,168.75 L301.50,168.16 L302.00,167.60 L302.50,167.05 L303.00,166.52 L303.50,166.02 L304.00,165.54 L304.50,165.10 L305.00,164.70 L305.50,164.33 L306.00,163.99 L306.50,163.66 L307.00,163.34 L307.50,163.04 L308.00,162.75 L308.50,162.47 L309.00,162.21 L309.50,161.96 L310.00,161.72 L310.50,161.50 L311.00,161.29 L311.50,161.09 L312.00,160.90 L312.50,160.72 L313.00,160.54 L313.50,160.37 L314.00,160.21 L314.50,160.05 L315.00,159.90 L315.50,159.75 L316.00,159.62 L316.50,159.49 L317.00,159.38 L317.50,159.27 L318.00,159.18 L318.50,159.10 L319.00,159.03 L319.50,158.96 L320.00,158.89 L320.50,158.82 L321.00,158.76 L321.50,158.69 L322.00,158.64 L322.50,158.58 L323.00,158.52 L323.50,158.47 L324.00,158.42 L324.50,158.38 L325.00,158.33 L325.50,158.29 L326.00,158.26 L326.50,158.22 L327.00,158.19 L327.50,158.16 L328.00,158.14 L328.50,158.12 L329.00,158.10 L329.50,158.08 L330.00,158.07 L330.50,158.06 L331.00,158.04 L331.50,158.03 L332.00,158.01 L332.50,158.00 L333.00,157.99 L333.50,157.98 L334.00,157.97 L334.50,157.96 L335.00,157.95 L335.50,157.94 L336.00,157.93 L336.50,157.92 L337.00,157.92 L337.50,157.91 L338.00,157.91 L338.50,157.90 L339.00,157.90 L339.50,157.90 L340.00,157.90 L340.50,157.90 L341.00,157.90 L341.50,157.90 L342.00,157.90 L342.50,157.90 L343.00,157.90 L343.50,157.90 L344.00,157.90 L344.50,157.90 L345.00,157.90 L345.50,157.90 L346.00,157.90 L346.50,157.90 L347.00,157.90 L347.50,157.90 L348.00,157.90 L348.50,157.90 L349.00,157.90 L349.50,157.90 L350.00,157.90 L350.50,157.90 L351.00,157.90 L351.50,157.90 L352.00,157.90 L352.50,157.90 L353.00,157.90 L353.50,157.90 L354.00,157.90 L354.50,157.90 L355.00,157.90 L355.50,157.90 L356.00,157.90 L356.50,157.90 L357.00,157.90 L357.50,157.90 L358.00,157.90 L358.50,157.90 L359.00,157.90 L359.50,157.90 L360.00,157.90 L360.50,157.90 L361.00,157.90 L361.50,157.90 L362.00,157.90 L362.50,157.90 L362.90,157.90" stroke="#dd0000" stroke-width="1.6" stroke-dasharray="2.8 1.95 0.8 2.05"/>
<path d="M71.6,25.5 H101.3" stroke="#7474ff" stroke-width="1.4"/>
<path d="M71.6,42.0 H101.3" stroke="#000" stroke-width="1.75" stroke-dasharray="1.6 1.2 1.6 4.5"/>
<path d="M71.6,58.8 H101.3" stroke="#8b0000" stroke-width="1.7" stroke-dasharray="3.1 1.4"/>
<path d="M71.6,75.2 H101.3" stroke="#cc0000" stroke-width="1.75" stroke-dasharray="0.98 0.82"/>
<path d="M71.6,91.75 H101.3" stroke="#dd0000" stroke-width="1.6" stroke-dasharray="2.8 1.95 0.8 2.05"/>
<path d="M97.24,223.1 v-4.3 M97.24,12.5 v4.3 M135.18,223.1 v-4.3 M135.18,12.5 v4.3 M173.11,223.1 v-4.3 M173.11,12.5 v4.3 M211.05,223.1 v-4.3 M211.05,12.5 v4.3 M248.99,223.1 v-4.3 M248.99,12.5 v4.3 M286.93,223.1 v-4.3 M286.93,12.5 v4.3 M324.86,223.1 v-4.3 M324.86,12.5 v4.3 M59.3,196.78 h4.3 M362.8,196.78 h-4.3 M59.3,170.45 h4.3 M362.8,170.45 h-4.3 M59.3,144.12 h4.3 M362.8,144.12 h-4.3 M59.3,117.80 h4.3 M362.8,117.80 h-4.3 M59.3,91.47 h4.3 M362.8,91.47 h-4.3 M59.3,65.15 h4.3 M362.8,65.15 h-4.3 M59.3,38.82 h4.3 M362.8,38.82 h-4.3" stroke="#000" stroke-width="1.05"/>
<path d="M58.65,12.5 H363.45" stroke="#000" stroke-width="1.1"/>
<path d="M58.75,223.37 H363.40000000000003" stroke="#000" stroke-width="1.15"/>
<path d="M59.3,12.5 V223.90" stroke="#000" stroke-width="1.35"/>
<path d="M362.8,12.5 V223.90" stroke="#000" stroke-width="1.35"/>
</g>
<g>
<text x="53.2" y="226.70" text-anchor="end" font-size="10.3">0</text>
<text x="53.2" y="200.38" text-anchor="end" font-size="10.3">2</text>
<text x="53.2" y="174.05" text-anchor="end" font-size="10.3">4</text>
<text x="53.2" y="147.72" text-anchor="end" font-size="10.3">6</text>
<text x="53.2" y="121.40" text-anchor="end" font-size="10.3">8</text>
<text x="53.2" y="95.07" text-anchor="end" font-size="10.3">10</text>
<text x="53.2" y="68.75" text-anchor="end" font-size="10.3">12</text>
<text x="53.2" y="42.42" text-anchor="end" font-size="10.3">14</text>
<text x="53.2" y="16.10" text-anchor="end" font-size="10.3">16</text>
<text y="238.7" font-size="10.3"><tspan x="48.30">10</tspan><tspan x="60.23" y="233.1" font-size="7.5">−</tspan><tspan x="64.48" y="233.15" font-size="8.8">4</tspan></text>
<text y="238.7" font-size="10.3"><tspan x="86.24">10</tspan><tspan x="98.17" y="233.1" font-size="7.5">−</tspan><tspan x="102.42" y="233.15" font-size="8.8">3</tspan></text>
<text y="238.7" font-size="10.3"><tspan x="124.18">10</tspan><tspan x="136.11" y="233.1" font-size="7.5">−</tspan><tspan x="140.36" y="233.15" font-size="8.8">2</tspan></text>
<text y="238.7" font-size="10.3"><tspan x="162.11">10</tspan><tspan x="174.04" y="233.1" font-size="7.5">−</tspan><tspan x="178.29" y="233.15" font-size="8.8">1</tspan></text>
<text x="210.45" y="238.7" text-anchor="middle" font-size="10.3">1</text>
<text y="238.7" font-size="10.3"><tspan x="240.94">10</tspan><tspan x="252.04" y="233.15" font-size="8.8">1</tspan></text>
<text y="238.7" font-size="10.3"><tspan x="278.88">10</tspan><tspan x="290.57" y="233.15" font-size="8.8">2</tspan></text>
<text y="238.7" font-size="10.3"><tspan x="316.81">10</tspan><tspan x="328.51" y="233.15" font-size="8.8">3</tspan></text>
<text y="238.7" font-size="10.3"><tspan x="354.75">10</tspan><tspan x="366.45" y="233.15" font-size="8.8">4</tspan></text>
<g transform="matrix(1 0 0 1.035 0 -1.050)"><text y="30.00" font-size="14.6"><tspan x="108.03">D</tspan><tspan x="118.55" textLength="12.89" lengthAdjust="spacingAndGlyphs">M</tspan><tspan x="131.77" textLength="8.18" lengthAdjust="spacingAndGlyphs">E</tspan></text></g>
<g transform="matrix(1 0 0 1.05 0 -2.275)"><text y="45.50" font-size="14.9"><tspan x="107.95">T</tspan><tspan x="116.33" y="50.00" font-size="11.9">C</tspan><tspan x="124.78" y="45.50">/</tspan><tspan x="129.20" font-size="14.6" class="sy">Γ</tspan><tspan x="138.40 147.00 154.76 163.21">=100</tspan></text></g>
<g transform="matrix(1 0 0 1.05 0 -3.105)"><text y="62.10" font-size="14.9"><tspan x="107.95">T</tspan><tspan x="116.33" y="66.60" font-size="11.9">C</tspan><tspan x="124.78" y="62.10">/</tspan><tspan x="129.20" font-size="14.6" class="sy">Γ</tspan><tspan x="138.40 147.00">=1</tspan></text></g>
<g transform="matrix(1 0 0 1.05 0 -3.935)"><text y="78.70" font-size="14.9"><tspan x="107.95">T</tspan><tspan x="116.33" y="83.20" font-size="11.9">C</tspan><tspan x="124.78" y="78.70">/</tspan><tspan x="129.20" font-size="14.6" class="sy">Γ</tspan><tspan x="138.40 147.00 154.68 160.05 167.81">=1/10</tspan></text></g>
<g transform="matrix(1 0 0 1.05 0 -4.765)"><text y="95.30" font-size="14.9"><tspan x="107.95">T</tspan><tspan x="116.33" y="99.80" font-size="11.9">C</tspan><tspan x="124.78" y="95.30">/</tspan><tspan x="129.20" font-size="14.6" class="sy">Γ</tspan><tspan x="138.40 147.00 154.68 160.05 167.81 176.01">=1/100</tspan></text></g>
<text y="252.60" font-size="14.6"><tspan x="192.12" y="252.40" font-size="13.4">δ</tspan><tspan x="199.17" y="257.60" font-size="12.0">U</tspan><tspan x="208.12 212.74" y="252.60">/T</tspan><tspan x="220.99" y="257.60" font-size="12.0">C</tspan></text>
<text transform="translate(27.8,131.2) rotate(-90)" font-size="14.8">F(0)</text>
</g>
</svg>
</body></html>
